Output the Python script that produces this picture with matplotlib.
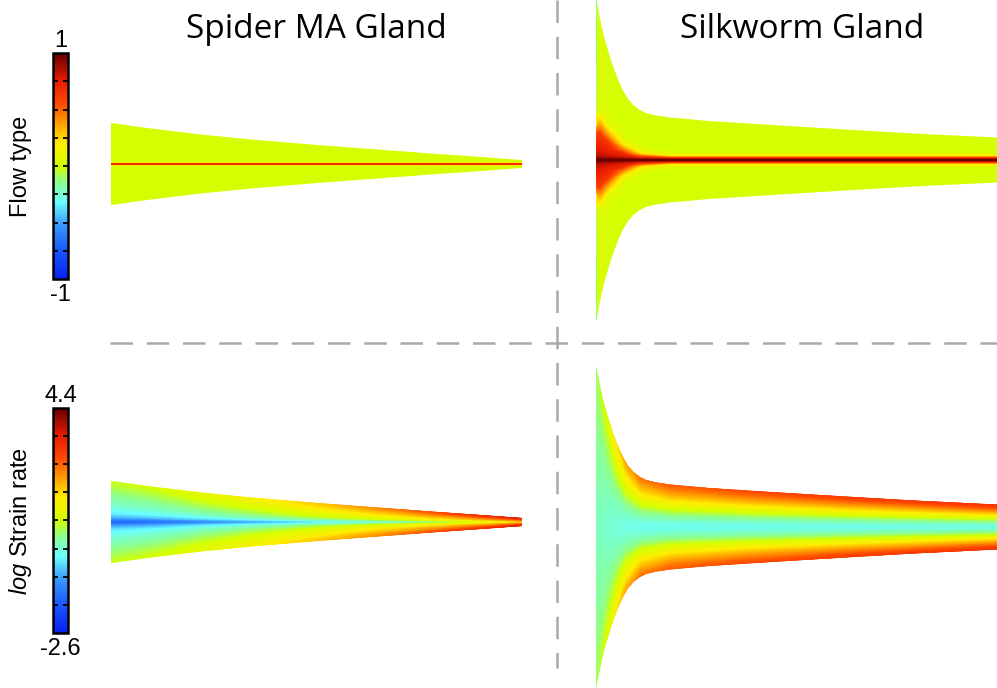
import numpy as np
import matplotlib
matplotlib.use("Agg")
import matplotlib.pyplot as plt
from matplotlib.colors import LinearSegmentedColormap, Normalize
from matplotlib.patches import Polygon
from matplotlib.lines import Line2D
import matplotlib.cm as cm

plt.rcParams['font.family'] = ['Liberation Sans', 'DejaVu Sans']
plt.rcParams['mathtext.fontset'] = 'custom'
plt.rcParams['mathtext.it'] = 'Liberation Sans:italic'
plt.rcParams['mathtext.rm'] = 'Liberation Sans'

# ---------------- gland geometry (axial position, half-width) ----------------
spider_z = np.array([0, 40, 90, 140, 200, 260, 320, 370, 411], dtype=float)
spider_r = np.array([41, 35.5, 29.5, 24.5, 19.5, 15, 10.5, 7, 4], dtype=float)

silk_z = np.array([0, 2, 4, 7, 10.7, 14, 17.3, 20.7, 24, 27.3, 32, 37.3, 43,
                   50, 60, 74, 113, 184, 250, 317, 401], dtype=float)
silk_r = np.array([160, 151, 141, 127, 114, 103, 93, 84, 76, 69, 61, 55, 50.5,
                   47, 44.5, 42.5, 39, 34.5, 30.5, 26.5, 22.5], dtype=float)

# ---------------- flow type (absolute radial distance from the axis) ----------------
spider_flow_z = np.array([0, 411], dtype=float)
spider_flow_r = np.array([0, 0.8, 1.6, 2.5, 50], dtype=float)
spider_flow = [
    [0.80, 0.60, 0.15, 0.0, 0.0],
    [0.80, 0.60, 0.15, 0.0, 0.0],
]

silk_flow_z = np.array([0, 1.5, 4, 14, 27, 44, 74, 401], dtype=float)
silk_flow_r = np.array([0, 1.5, 3.5, 6, 10, 16, 25, 35, 50, 170], dtype=float)
silk_flow = [
    [0.95, 0.90, 0.85, 0.78, 0.72, 0.66, 0.50, -0.10, -0.40, -0.40],
    [1.00, 0.92, 0.85, 0.80, 0.75, 0.70, 0.62, 0.35, 0.05, 0.00],
    [1.00, 0.92, 0.85, 0.80, 0.75, 0.70, 0.62, 0.35, 0.05, 0.00],
    [1.00, 0.90, 0.80, 0.75, 0.70, 0.60, 0.30, 0.05, 0.00, 0.00],
    [1.00, 0.88, 0.75, 0.68, 0.45, 0.15, 0.02, 0.00, 0.00, 0.00],
    [1.00, 0.80, 0.55, 0.25, 0.06, 0.00, 0.00, 0.00, 0.00, 0.00],
    [1.00, 0.75, 0.25, 0.04, 0.00, 0.00, 0.00, 0.00, 0.00, 0.00],
    [1.00, 0.75, 0.25, 0.03, 0.00, 0.00, 0.00, 0.00, 0.00, 0.00],
]

# ---------------- log strain rate (relative radial position r/R) ----------------
eta_nodes = np.array([0, 0.04, 0.1, 0.2, 0.35, 0.55, 0.75, 0.9, 1.0, 1.1])

spider_strain_z = spider_z
spider_strain = [
    [-1.55, -1.40, -0.85, -0.35, -0.05, 0.25, 0.52, 0.72, 0.82, 0.82],
    [-1.45, -1.30, -0.75, -0.27, 0.05, 0.35, 0.62, 0.82, 0.92, 0.92],
    [-1.15, -1.00, -0.50, -0.05, 0.30, 0.62, 0.90, 1.08, 1.18, 1.18],
    [-0.85, -0.72, -0.25, 0.20, 0.55, 0.88, 1.15, 1.34, 1.45, 1.45],
    [-0.50, -0.38, 0.05, 0.52, 0.90, 1.25, 1.55, 1.75, 1.85, 1.85],
    [-0.20, -0.08, 0.35, 0.85, 1.25, 1.62, 1.97, 2.20, 2.30, 2.30],
    [0.05, 0.19, 0.65, 1.20, 1.62, 2.03, 2.42, 2.67, 2.80, 2.80],
    [0.35, 0.49, 0.95, 1.52, 1.96, 2.38, 2.79, 3.07, 3.20, 3.20],
    [0.80, 0.94, 1.36, 1.90, 2.31, 2.71, 3.11, 3.38, 3.50, 3.50],
]

silk_strain_z = np.array([0, 5, 12, 20, 30, 45, 75, 150, 250, 401], dtype=float)
silk_strain = [
    [0.20, 0.20, 0.22, 0.25, 0.30, 0.38, 0.45, 0.50, 0.55, 0.55],
    [0.12, 0.12, 0.14, 0.18, 0.25, 0.35, 0.50, 0.65, 0.75, 0.75],
    [0.05, 0.05, 0.07, 0.12, 0.22, 0.42, 0.68, 0.92, 1.05, 1.05],
    [0.00, 0.00, 0.03, 0.10, 0.28, 0.62, 1.02, 1.38, 1.62, 1.62],
    [-0.06, -0.05, -0.02, 0.10, 0.40, 0.90, 1.45, 1.90, 2.15, 2.15],
    [-0.10, -0.09, -0.04, 0.15, 0.55, 1.20, 1.85, 2.30, 2.55, 2.55],
    [-0.12, -0.10, -0.04, 0.20, 0.65, 1.35, 2.05, 2.50, 2.70, 2.70],
    [-0.12, -0.10, -0.03, 0.22, 0.70, 1.45, 2.20, 2.65, 2.85, 2.85],
    [-0.10, -0.08, -0.01, 0.25, 0.75, 1.55, 2.30, 2.80, 3.00, 3.00],
    [-0.08, -0.06, 0.02, 0.30, 0.80, 1.65, 2.45, 2.95, 3.15, 3.15],
]

flow_range = (-1.0, 1.0)
strain_range = (-2.6, 4.4)
titles = ["Spider MA Gland", "Silkworm Gland"]

# ---------------- colour map ----------------
gland_cmap = LinearSegmentedColormap.from_list("gland_jet", [
    (0.00, (0.02, 0.13, 0.95)),
    (0.12, (0.10, 0.33, 1.00)),
    (0.24, (0.22, 0.60, 1.00)),
    (0.34, (0.42, 1.00, 1.00)),
    (0.43, (0.55, 1.00, 0.55)),
    (0.50, (0.83, 1.00, 0.00)),
    (0.60, (1.00, 0.93, 0.00)),
    (0.69, (1.00, 0.62, 0.00)),
    (0.78, (1.00, 0.28, 0.00)),
    (0.88, (0.90, 0.10, 0.00)),
    (1.00, (0.40, 0.00, 0.00)),
])
flow_norm = Normalize(*flow_range)
strain_norm = Normalize(*strain_range)

W, H = 997, 688
fig = plt.figure(figsize=(W / 100, H / 100), dpi=100)


def px_axes(x0, y0, x1, y1):
    return fig.add_axes([x0 / W, 1 - y1 / H, (x1 - x0) / W, (y1 - y0) / H])


def draw_field(ax, z_prof, r_prof, z_nodes, radial_nodes, table, relative, norm):
    table = np.asarray(table, dtype=float)
    rad = np.concatenate([-radial_nodes[::-1], radial_nodes[1:]])
    vals = np.concatenate([table[:, ::-1], table[:, 1:]], axis=1)
    zg = np.repeat(z_nodes[:, None], len(rad), axis=1)
    if relative:
        rz = np.interp(z_nodes, z_prof, r_prof)
        rg = rad[None, :] * rz[:, None]
    else:
        rg = np.repeat(rad[None, :], len(z_nodes), axis=0)
    levels = np.linspace(norm.vmin, norm.vmax, 256)
    cs = ax.contourf(zg, rg, vals, levels=levels, cmap=gland_cmap, norm=norm,
                     extend='both', antialiased=False)
    outline = Polygon(np.column_stack([np.r_[z_prof, z_prof[::-1]],
                                       np.r_[r_prof, -r_prof[::-1]]]),
                      closed=True, facecolor='none', edgecolor='none')
    ax.add_patch(outline)
    cs.set_clip_path(outline)


def gland_axes(x0, length, yc, half):
    ax = px_axes(x0, yc - half, x0 + length, yc + half)
    ax.set_xlim(0, length)
    ax.set_ylim(-half, half)
    ax.axis('off')
    return ax


# spider panels
ax = gland_axes(111, 411, 164, 50)
draw_field(ax, spider_z, spider_r, spider_flow_z, spider_flow_r, spider_flow, False, flow_norm)
ax = gland_axes(111, 411, 522, 50)
draw_field(ax, spider_z, spider_r, spider_strain_z, eta_nodes, spider_strain, True, strain_norm)

# silkworm panels
ax = gland_axes(596, 401, 160, 160)
draw_field(ax, silk_z, silk_r, silk_flow_z, silk_flow_r, silk_flow, False, flow_norm)
ax = gland_axes(596, 401, 527, 160)
draw_field(ax, silk_z, silk_r, silk_strain_z, eta_nodes, silk_strain, True, strain_norm)


# colour bars
def colour_bar(y0, y1, norm, label):
    cax = px_axes(53, y0, 68, y1)
    cb = fig.colorbar(cm.ScalarMappable(norm=norm, cmap=gland_cmap), cax=cax)
    cb.outline.set_linewidth(1.8)
    cb.set_ticks(np.linspace(norm.vmin, norm.vmax, 9)[1:-1])
    cax.yaxis.set_ticks_position('both')
    cax.tick_params(direction='in', length=3.5, width=1.3, colors='k',
                    labelleft=False, labelright=False)
    fig.text(60.5 / W, 1 - (y0 - 6) / H, f"{norm.vmax:g}", ha='center', va='baseline', fontsize=17)
    fig.text(60.5 / W, 1 - (y1 + 5) / H, f"{norm.vmin:g}", ha='center', va='top', fontsize=17)
    fig.text(21 / W, 1 - (y0 + y1) / 2 / H, label, rotation=90, ha='center', va='center',
             fontsize=17)


colour_bar(53, 279, flow_norm, "Flow type")
colour_bar(408, 633, strain_norm, r"$\mathit{log}$ Strain rate")

# titles
fig.text(316 / W, 1 - 38 / H, titles[0], ha='center', va='baseline', fontsize=24,
         family=['Open Sans', 'DejaVu Sans'])
fig.text(802 / W, 1 - 38 / H, titles[1], ha='center', va='baseline', fontsize=24,
         family=['Open Sans', 'DejaVu Sans'])

# dashed separators
dash = (0, (9, 5.5))
fig.add_artist(Line2D([110 / W, 1.0], [1 - 343 / H] * 2, color='#a9a9a9', lw=1.8, linestyle=dash))
fig.add_artist(Line2D([557 / W] * 2, [1.0, 1 - 668 / H], color='#a9a9a9', lw=1.8, linestyle=dash))

fig.savefig("out.png", dpi=100)
